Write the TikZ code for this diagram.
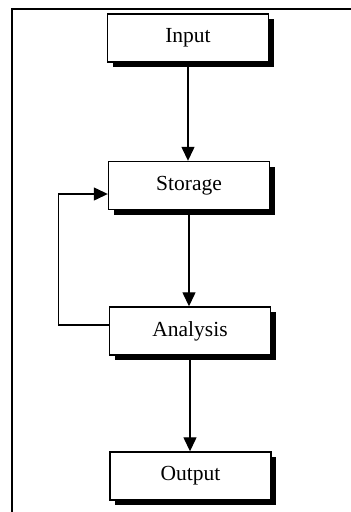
\documentclass[tikz,border=0pt]{standalone}
\usepackage{fontspec}
\setmainfont{Liberation Serif}
\usepackage{tikz}
\usetikzlibrary{positioning,shadows,arrows.meta}

\tikzset{
  stage/.style = {draw, line width=1.4pt, fill=white, minimum width=161pt,
                  minimum height=48pt, inner sep=0pt,
                  font=\fontsize{21.5}{25}\selectfont,
                  drop shadow={shadow xshift=5pt, shadow yshift=-5pt,
                               fill=black, opacity=1}},
  flow/.style  = {line width=1.3pt, -{Triangle[width=13pt,length=14pt]}}
}

\begin{document}
\begin{tikzpicture}[x=1pt, y=-1pt]
                \useasboundingbox (0,0) rectangle (351,512);
                % frame
                \draw[line width=1.6pt] (12,512) -- (12,9) -- (351,9);

                \node[stage] at (188,38) (in) {Input};
                \node[stage] at (189,185.5) (st) {Storage};
                \node[stage] at (190,331) (an) {Analysis};
                \node[stage] at (190.5,476) (out) {Output};

                \draw [flow] (in.south) -- (in.south |- st.north);
                \draw [flow] (st.south) -- (st.south |- an.north);
                \draw [flow] (an.south) -- (an.south |- out.north);
                % loop back from analysis
                \draw [flow] ([yshift=6pt]an.west) -- ++(-50,0) |- ([yshift=-8.5pt]st.west);
            \end{tikzpicture}
\end{document}
